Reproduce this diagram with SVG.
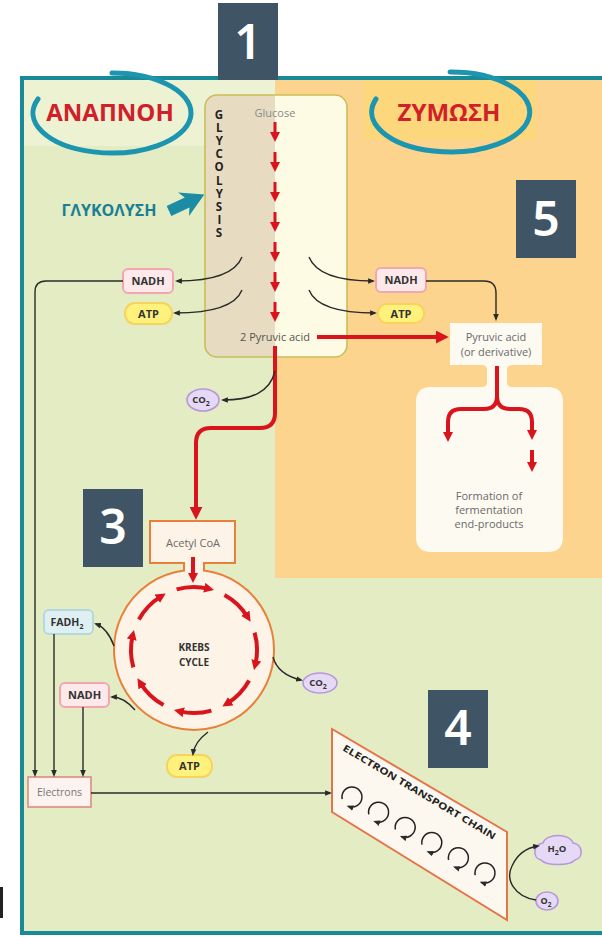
<svg xmlns="http://www.w3.org/2000/svg" width="602" height="937" viewBox="0 0 602 937">
<defs>
<style>
.t{font-family:"Open Sans","Liberation Sans",sans-serif}
.g{font-size:11px;fill:#6a6a6a}
.b{font-size:11px;font-weight:700;fill:#333}
.num{font-family:"Noto Sans","Liberation Sans",sans-serif;font-size:48px;font-weight:600;fill:#fff}
.nbox{fill:#3f5566}
.nadh{fill:#fde8ea;stroke:#f2a6b0;stroke-width:2}
.atp{fill:#fff27c;stroke:#f6d35c;stroke-width:2}
.fadh{fill:#dff0f2;stroke:#b5d8de;stroke-width:2}
.bub{fill:#e6d9f6;stroke:#b697dc;stroke-width:1.6}
.blk{fill:none;stroke:#2a2a2a;stroke-width:1.4;marker-end:url(#bh)}
.red{fill:none;stroke:#d9141c;stroke-width:3;marker-end:url(#rh)}
.redL{fill:none;stroke:#d9141c;stroke-width:4}
.cyc{fill:none;stroke:#d9141c;stroke-width:4;marker-end:url(#rh)}
.etc{fill:none;stroke:#222;stroke-width:1.5;marker-end:url(#bh)}
.ring{fill:none;stroke:#1b95b0;stroke-width:5;stroke-linecap:round}
.gr{font-size:24px;font-weight:700;fill:#d0202a;font-family:"Open Sans","Liberation Sans",sans-serif}
</style>
<marker id="rh" viewBox="0 0 10 10" refX="4" refY="5" markerWidth="10" markerHeight="10" markerUnits="userSpaceOnUse" orient="auto"><path d="M0,0 L10,5 L0,10 z" fill="#d9141c"/></marker>
<marker id="rhL" viewBox="0 0 10 10" refX="4" refY="5" markerWidth="13" markerHeight="13" markerUnits="userSpaceOnUse" orient="auto"><path d="M0,0 L10,5 L0,10 z" fill="#d9141c"/></marker>
<marker id="bh" viewBox="0 0 10 10" refX="7" refY="5" markerWidth="7" markerHeight="7" markerUnits="userSpaceOnUse" orient="auto"><path d="M0,1 L10,5 L0,9 z" fill="#2a2a2a"/></marker>
</defs>

<g id="background">
<rect x="0" y="0" width="602" height="937" fill="#ffffff"/>
<rect x="22" y="78" width="600" height="855" fill="#e3ecc3"/>
<rect x="24" y="80" width="251" height="66" fill="#ecf2d2"/>
<rect x="275" y="80" width="327" height="498" fill="#fcd48d"/>
<rect x="364" y="80" width="172" height="60" fill="#fdd77c"/>
<rect x="22" y="78" width="600" height="855" fill="none" stroke="#1b8a98" stroke-width="4"/>
<rect x="0" y="887" width="3" height="31" fill="#222"/>
</g>

<g id="label-anapnoh">
<path class="ring" d="M112,73 A79,40 0 1 1 38,99"/>
<text class="gr" x="110" y="121" text-anchor="middle">ΑΝΑΠΝΟΗ</text>
</g>
<g id="label-zymosi">
<path class="ring" d="M450,72 A79,40 0 1 1 376,99"/>
<text class="gr" x="449" y="121" text-anchor="middle">ΖΥΜΩΣΗ</text>
</g>

<g id="label-glykolysi">
<text x="109" y="216" text-anchor="middle" style="font-family:'Open Sans','Liberation Sans',sans-serif;font-size:16px;font-weight:700;fill:#1a7f95">ΓΛΥΚΟΛΥΣΗ</text>
<polygon transform="translate(169,211) rotate(-25)" points="0,-5.5 20,-5.5 16,-13 39,0 16,13 20,5.5 0,5.5" fill="#1b8ca3"/>
</g>

<g id="glycolysis">
<path d="M217,95 L275,95 L275,357 L217,357 Q205,357 205,345 L205,107 Q205,95 217,95 Z" fill="#e7dcc1"/>
<path d="M275,95 L335,95 Q347,95 347,107 L347,345 Q347,357 335,357 L275,357 Z" fill="#fdfbe4"/>
<rect x="205" y="95" width="142" height="262" rx="12" fill="none" stroke="#c9bd5a" stroke-width="1.6"/>
<text class="t" x="275" y="117" text-anchor="middle" style="font-size:11px;fill:#8a8a8a">Glucose</text>
<text class="t" x="219" y="107" style="font-size:11.5px;font-weight:700;fill:#222;writing-mode:vertical-rl;text-orientation:upright;letter-spacing:-1.9px">GLYCOLYSIS</text>
<text class="t" x="275" y="341" text-anchor="middle" style="font-size:11px;fill:#555">2 Pyruvic acid</text>
</g>

<g id="fermentation">
<path d="M450,323 L542,323 L542,365 L512,365 Q507,365 507,370 L507,382 Q507,387 512,387 L548,387 Q563,387 563,402 L563,537 Q563,552 548,552 L431,552 Q416,552 416,537 L416,402 Q416,387 431,387 L482,387 Q487,387 487,382 L487,370 Q487,365 482,365 L450,365 Z" fill="#fdfaf2"/>
<text class="t g" x="496" y="341" text-anchor="middle">Pyruvic acid</text>
<text class="t g" x="496" y="356" text-anchor="middle">(or derivative)</text>
<text class="t g" x="489" y="500" text-anchor="middle">Formation of</text>
<text class="t g" x="489" y="514" text-anchor="middle">fermentation</text>
<text class="t g" x="489" y="528" text-anchor="middle">end-products</text>
</g>

<g id="nadh-left"><rect class="nadh" x="123" y="269" width="50" height="24" rx="5"/><text class="t b" x="148" y="285" text-anchor="middle">NADH</text></g>
<g id="atp-left"><rect class="atp" x="125" y="303" width="47" height="21" rx="10"/><text class="t b" x="148.5" y="318" text-anchor="middle">ATP</text></g>
<g id="nadh-right"><rect class="nadh" x="376" y="268" width="50" height="24" rx="5"/><text class="t b" x="401" y="284" text-anchor="middle">NADH</text></g>
<g id="atp-right"><rect class="atp" x="378" y="304" width="46" height="19" rx="9"/><text class="t b" x="401" y="318" text-anchor="middle">ATP</text></g>
<g id="co2-top"><ellipse class="bub" cx="203" cy="400" rx="16" ry="11"/><text class="t" x="201" y="403" text-anchor="middle" style="font-size:9.5px;font-weight:700;fill:#333">CO<tspan font-size="7" dy="3">2</tspan></text></g>

<g id="krebs">
<path d="M150,521 L235,521 L235,563 L204,563 L204,570.6 A80,80 0 1 1 184,570.6 L184,563 L150,563 Z" fill="#fdf3e6" stroke="#e8803c" stroke-width="2"/>
<text class="t g" x="193" y="547" text-anchor="middle">Acetyl CoA</text>
<text class="t" x="194" y="651" text-anchor="middle" style="font-size:10px;font-weight:700;fill:#333">KREBS</text>
<text class="t" x="194" y="666" text-anchor="middle" style="font-size:10px;font-weight:700;fill:#333">CYCLE</text>
<path class="cyc" d="M176.6,589.4 A63,63 0 0 1 208.2,588.6"/>
<path class="cyc" d="M224.5,594.9 A63,63 0 0 1 247.4,616.6"/>
<path class="cyc" d="M254.6,632.6 A63,63 0 0 1 255.4,664.2"/>
<path class="cyc" d="M249.1,680.5 A63,63 0 0 1 227.4,703.4"/>
<path class="cyc" d="M211.4,710.6 A63,63 0 0 1 179.8,711.4"/>
<path class="cyc" d="M163.5,705.1 A63,63 0 0 1 140.6,683.4"/>
<path class="cyc" d="M133.4,667.4 A63,63 0 0 1 132.6,635.8"/>
<path class="cyc" d="M138.9,619.5 A63,63 0 0 1 160.6,596.6"/>
</g>

<g id="fadh2"><rect class="fadh" x="44" y="610" width="49" height="24" rx="5"/><text class="t" x="67" y="626" text-anchor="middle" style="font-size:10.5px;font-weight:700;fill:#333">FADH<tspan font-size="7" dy="3">2</tspan></text></g>
<g id="nadh-krebs"><rect class="nadh" x="60" y="683" width="49" height="24" rx="5"/><text class="t b" x="84.5" y="699" text-anchor="middle">NADH</text></g>
<g id="co2-krebs"><ellipse class="bub" cx="320" cy="683" rx="17" ry="10"/><text class="t" x="318" y="686" text-anchor="middle" style="font-size:9.5px;font-weight:700;fill:#333">CO<tspan font-size="7" dy="3">2</tspan></text></g>
<g id="atp-krebs"><rect class="atp" x="167" y="755" width="45" height="22" rx="10"/><text class="t b" x="189.5" y="770" text-anchor="middle">ATP</text></g>
<g id="electrons"><rect x="28" y="777" width="63" height="30" fill="#fbf3ef" stroke="#e08a84" stroke-width="1.6"/><text class="t" x="59.5" y="796" text-anchor="middle" style="font-size:10.5px;fill:#777">Electrons</text></g>

<g id="etc">
<path d="M332,729 L507,832 L507,920 L332,812 Z" fill="#fdf8ef" stroke="#e5744a" stroke-width="2"/>
<text class="t" transform="translate(342,750) rotate(30.7)" textLength="176" lengthAdjust="spacingAndGlyphs" style="font-size:9.5px;font-weight:700;fill:#222">ELECTRON TRANSPORT CHAIN</text>
<path class="etc" d="M342.2,799.1 A10,10 0 1 1 348.6,806.4"/>
<path class="etc" d="M368.8,814.3 A10,10 0 1 1 375.2,821.6"/>
<path class="etc" d="M395.4,829.5 A10,10 0 1 1 401.8,836.8"/>
<path class="etc" d="M422,844.7 A10,10 0 1 1 428.4,852"/>
<path class="etc" d="M448.6,859.9 A10,10 0 1 1 455,867.2"/>
<path class="etc" d="M475.2,875.1 A10,10 0 1 1 481.6,882.4"/>
</g>

<g id="h2o"><path class="bub" d="M541,860 C532,858 533,844 543,843 C546,833 570,833 573,843 C583,844 584,858 575,860 C570,866 546,866 541,860 Z"/><text class="t" x="557" y="852" text-anchor="middle" style="font-size:9.5px;font-weight:700;fill:#333">H<tspan font-size="7" dy="3">2</tspan><tspan dy="-3">O</tspan></text></g>
<g id="o2"><ellipse class="bub" cx="547" cy="901" rx="11" ry="9"/><text class="t" x="546" y="904" text-anchor="middle" style="font-size:9px;font-weight:700;fill:#333">O<tspan font-size="6.5" dy="3">2</tspan></text></g>

<g id="connectors">
<path class="red" d="M275,122 L275,136"/>
<path class="red" d="M275,152 L275,166"/>
<path class="red" d="M275,182 L275,196"/>
<path class="red" d="M275,212 L275,226"/>
<path class="red" d="M275,242 L275,256"/>
<path class="red" d="M275,272 L275,286"/>
<path class="red" d="M275,302 L275,316"/>
<path class="redL" style="marker-end:url(#rhL)" d="M317,337 L441,337"/>
<path class="redL" style="marker-end:url(#rhL)" d="M275,346 L275,413 Q275,428 260,428 L211,428 Q196,428 196,443 L196,512"/>
<path class="red" style="stroke-width:4" d="M193,557 L193,577"/>
<path class="redL" d="M497,366 L497,396 Q497,409 484,409 L461,409 Q448,409 448,422"/>
<path class="redL" d="M497,396 Q497,409 510,409 L519,409 Q532,409 532,422"/>
<path class="red" style="stroke-width:4" d="M448,421 L448,436"/>
<path class="red" style="stroke-width:4" d="M532,421 L532,434"/>
<path class="red" style="stroke-width:4" d="M532,450 L532,466"/>
<path class="blk" d="M242,257 C236,272 216,281 177,281"/>
<path class="blk" d="M242,290 C236,305 216,313 175,313"/>
<path class="blk" d="M309,257 C315,272 335,281 373,281"/>
<path class="blk" d="M309,290 C315,305 335,313 375,313"/>
<path class="blk" d="M426,281 L484,281 Q496,281 496,293 L496,319"/>
<path class="blk" d="M275,371 C270,392 252,400 223,400"/>
<path class="blk" d="M123,281 L46,281 Q35,281 35,292 L35,775"/>
<path class="blk" d="M54,634 L54,775"/>
<path class="blk" d="M83,707 L83,775"/>
<path class="blk" d="M114,646 C110,635 104,627 96,624"/>
<path class="blk" d="M135,710 C128,702 120,697 112,697"/>
<path class="blk" d="M273,657 C276,668 284,676 301,680"/>
<path class="blk" d="M208,732 C200,738 194,745 193,754"/>
<path class="blk" d="M91,793 L330,793"/>
<path class="blk" d="M536,900 C515,897 505,880 512,866 C517,855 525,848 538,846"/>
</g>

<g id="step-1"><rect class="nbox" x="218" y="3" width="60" height="77"/><text class="num" x="248" y="59" text-anchor="middle">1</text></g>
<g id="step-3"><rect class="nbox" x="83" y="489" width="60" height="78"/><text class="num" x="113" y="544" text-anchor="middle">3</text></g>
<g id="step-4"><rect class="nbox" x="428" y="690" width="60" height="78"/><text class="num" x="458" y="745" text-anchor="middle">4</text></g>
<g id="step-5"><rect class="nbox" x="516" y="180" width="60" height="78"/><text class="num" x="546" y="236" text-anchor="middle">5</text></g>
</svg>
